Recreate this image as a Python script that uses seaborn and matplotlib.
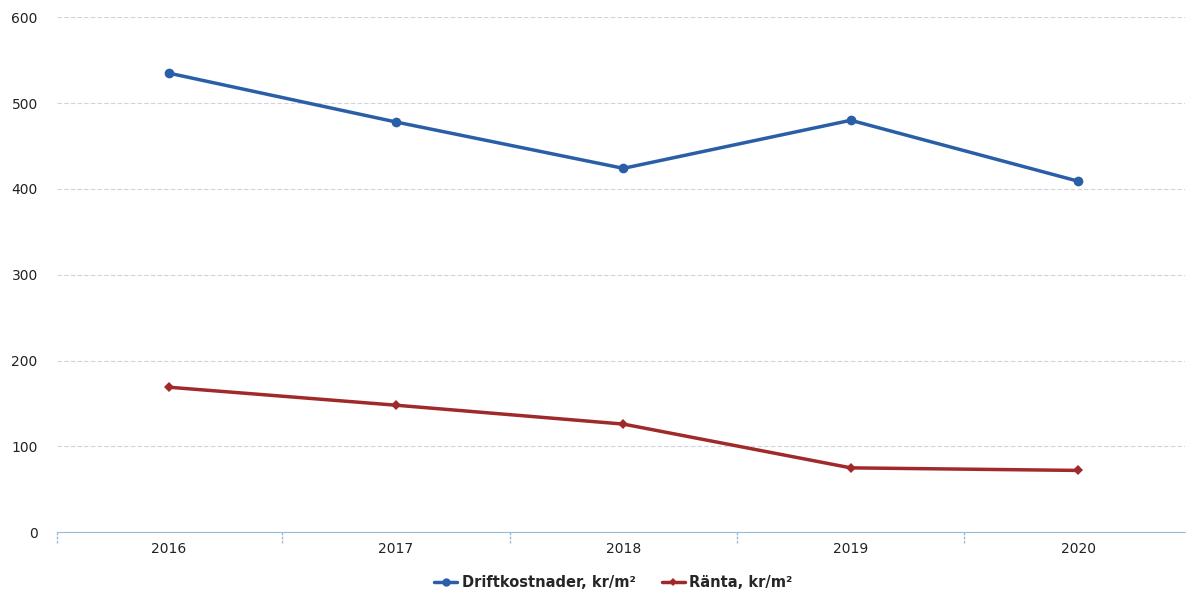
import seaborn as sns
import pandas as pd
import matplotlib.pyplot as plt
from matplotlib.lines import Line2D

years = ['2016', '2017', '2018', '2019', '2020']
drift = [535, 478, 424, 480, 409]
ranta = [169, 148, 126, 75, 72]
series_names = ['Driftkostnader, kr/m²', 'Ränta, kr/m²']
colors = ['#2a5fa8', '#a02a2a']

df = pd.DataFrame({
    'year': years * 2,
    'value': drift + ranta,
    'serie': [series_names[0]] * 5 + [series_names[1]] * 5,
})

sns.set_style('white')
plt.rcParams['font.family'] = ['DejaVu Sans']

fig = plt.figure(figsize=(11.91, 5.96), dpi=100)
ax = fig.add_axes([0.048, 0.107, 0.947, 0.864])

sns.lineplot(data=df, x='year', y='value', hue='serie', style='serie',
             palette=colors, markers={series_names[0]: 'o', series_names[1]: 'D'},
             dashes=False, lw=2.5, ax=ax, legend=False)
for line, ms in zip(ax.lines, [7, 5]):
    line.set_markersize(ms)
    line.set_markeredgewidth(0)

ax.set_ylim(0, 600)
ax.set_yticks(range(0, 601, 100))
ax.set_xlim(-0.49, 4.47)
ax.set_xlabel('')
ax.set_ylabel('')
ax.grid(axis='y', color='#d0d4da', lw=0.8, ls=(0, (4, 2)))
for s in ['top', 'right', 'left']:
    ax.spines[s].set_visible(False)
ax.spines['bottom'].set_color('#9bb8d8')
ax.spines['bottom'].set_linestyle((0, (3, 1)))
ax.tick_params(axis='x', length=0, labelsize=10, colors='#222222', pad=7)
ax.tick_params(axis='y', length=0, labelsize=10, colors='#222222', pad=14)
for b in [-0.49, 0.5, 1.5, 2.5, 3.5]:
    ax.plot([b, b], [0, -12], color='#9bb8d8', lw=1, ls=(0, (2, 1)),
            clip_on=False)

handles = [Line2D([], [], color=colors[0], marker='o', ms=6, lw=2.5, mew=0),
           Line2D([], [], color=colors[1], marker='D', ms=4, lw=2.5, mew=0)]
fig.legend(handles, series_names, loc='lower center', bbox_to_anchor=(0.515, -0.012),
           ncol=2, frameon=False, prop={'weight': 'bold', 'size': 10.5},
           handlelength=1.6, columnspacing=1.8, handletextpad=0.3)

fig.savefig('out.png', dpi=100)
